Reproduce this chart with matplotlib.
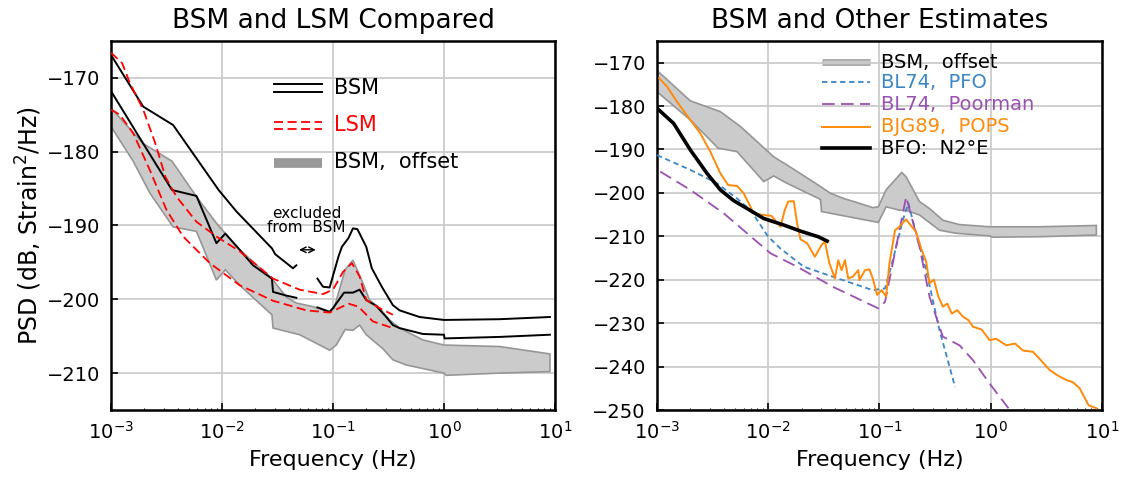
import numpy as np
import matplotlib
matplotlib.use("Agg")
import matplotlib.pyplot as plt

plt.rcParams['font.family'] = ['DejaVu Sans']
plt.rcParams['mathtext.fontset'] = 'dejavusans'

# ---- left panel data (log10 frequency, dB) ----
bsm_hi_a_lf = [-3.0, -2.71, -2.44, -2.03, -1.87, -1.55, -1.52, -1.36, -1.33]
bsm_hi_a_db = [-166.9, -173.9, -176.4, -185.2, -188.1, -193.1, -193.9, -195.8, -195.4]
bsm_hi_b_lf = [-1.14, -1.09, -1.03, -0.95, -0.92, -0.86, -0.82, -0.78, -0.70, -0.65,
               -0.56, -0.46, -0.40, -0.22, 0.0, 0.5, 0.955]
bsm_hi_b_db = [-197.2, -198.3, -198.4, -194.2, -192.9, -191.7, -190.4, -190.5, -192.9, -195.8,
               -198.3, -200.8, -201.5, -202.4, -202.8, -202.7, -202.4]

bsm_lo_a_lf = [-3.0, -2.71, -2.45, -2.23, -2.05, -1.97, -1.84, -1.72, -1.55, -1.54, -1.42, -1.33]
bsm_lo_a_db = [-171.8, -178.9, -185.2, -186.0, -192.4, -191.1, -193.3, -195.4, -197.2, -199.0,
               -199.5, -199.8]
bsm_lo_b_lf = [-1.14, -1.03, -1.0, -0.90, -0.82, -0.76, -0.70, -0.61, -0.52, -0.46, -0.40,
               -0.19, 0.0, 0.005, 0.5, 0.955]
bsm_lo_b_db = [-201.1, -201.7, -201.2, -199.1, -199.1, -198.7, -200.1, -200.9, -202.4, -203.5,
               -203.9, -204.7, -204.8, -205.3, -205.1, -204.8]

lsm_hi_lf = [-3.0, -2.90, -2.83, -2.71, -2.60, -2.51, -2.41, -2.23, -2.05, -1.84, -1.54, -1.30,
             -1.09, -1.0, -0.91, -0.83, -0.76, -0.70, -0.58, -0.46]
lsm_hi_db = [-166.6, -168.0, -170.7, -174.3, -178.9, -183.4, -186.1, -189.5, -191.5, -193.5,
             -197.2, -198.7, -199.3, -198.7, -196.3, -195.1, -196.9, -200.1, -201.2, -202.1]

lsm_lo_lf = [-3.0, -2.92, -2.80, -2.65, -2.50, -2.35, -2.11, -1.84, -1.54, -1.24, -1.03, -0.86,
             -0.77, -0.64, -0.46]
lsm_lo_db = [-174.3, -175.0, -177.5, -182.5, -187.9, -191.5, -195.1, -198.1, -200.2, -201.5,
             -201.8, -200.6, -201.0, -203.0, -203.9]

band_l_up_lf = [-3.0, -2.71, -2.45, -2.23, -2.05, -1.97, -1.84, -1.55, -1.42, -1.33, -1.18,
                -1.03, -0.99, -0.89, -0.82, -0.73, -0.67, -0.58, -0.49, -0.40, -0.19, 0.0,
                0.5, 0.955]
band_l_up_db = [-174.1, -178.9, -181.3, -186.1, -189.7, -191.1, -193.3, -197.2, -199.7, -200.5,
                -201.0, -201.7, -201.2, -196.0, -194.7, -197.8, -200.1, -201.2, -202.8, -203.9,
                -205.5, -206.2, -206.4, -207.4]
band_l_lo_lf = [-3.0, -2.80, -2.65, -2.44, -2.23, -2.05, -1.97, -1.84, -1.55, -1.54, -1.30,
                -1.03, -0.97, -0.89, -0.82, -0.76, -0.70, -0.55, -0.46, -0.34, 0.0, 0.02,
                0.5, 0.955]
band_l_lo_db = [-176.6, -181.3, -185.6, -190.2, -190.8, -197.4, -196.0, -198.1, -202.1, -203.9,
                -204.8, -206.9, -206.2, -204.1, -204.2, -203.5, -204.8, -206.7, -208.2, -208.9,
                -210.0, -210.3, -210.0, -209.8]

# ---- right panel data ----
band_r_up_lf = [-3.0, -2.70, -2.43, -2.25, -1.95, -1.83, -1.55, -1.44, -1.32, -1.18, -1.06,
                -1.01, -0.94, -0.80, -0.76, -0.64, -0.55, -0.43, -0.28, -0.01, 0.44, 0.95]
band_r_up_db = [-171.8, -178.8, -181.3, -184.7, -191.7, -193.6, -198.2, -200.1, -201.3, -202.4,
                -203.4, -203.2, -199.3, -195.3, -196.3, -202.0, -203.6, -206.3, -207.3, -207.8,
                -207.8, -207.5]
band_r_lo_lf = [-3.0, -2.70, -2.45, -2.28, -2.04, -1.95, -1.83, -1.53, -1.52, -1.36, -1.01,
                -0.94, -0.82, -0.76, -0.64, -0.46, -0.31, -0.01, 0.02, 0.44, 0.95]
band_r_lo_db = [-176.7, -183.2, -189.7, -190.5, -197.4, -196.1, -197.8, -201.5, -204.3, -205.1,
                -206.8, -203.2, -204.0, -204.0, -205.1, -208.6, -209.3, -209.9, -210.2, -210.1,
                -209.7]

pfo_lf = [-3.0, -2.70, -2.46, -2.28, -2.16, -2.0, -1.89, -1.68, -1.42, -1.06, -0.95, -0.88,
          -0.79, -0.74, -0.67, -0.58, -0.46, -0.32]
pfo_db = [-191.3, -194.7, -197.8, -201.3, -203.9, -210.1, -212.8, -217.0, -219.3, -222.4,
          -222.0, -215.5, -206.3, -202.4, -209.3, -217.8, -231.6, -244.7]

poor_lf = [-2.97, -2.70, -2.40, -1.98, -1.74, -1.42, -1.01, -0.95, -0.85, -0.76, -0.64, -0.55,
           -0.47, -0.43, -0.28, -0.16, -0.01, 0.16]
poor_db = [-195.1, -199.3, -204.7, -213.9, -217.0, -221.6, -226.6, -225.1, -212.4, -200.9,
           -212.4, -223.9, -230.1, -233.1, -235.1, -238.5, -243.9, -249.6]

pops_lf = [-2.98, -2.91, -2.82, -2.70, -2.61, -2.52, -2.43, -2.36, -2.28, -2.22, -2.13, -2.04,
           -1.97, -1.89, -1.85, -1.82, -1.77, -1.74, -1.71, -1.65, -1.58, -1.52, -1.49, -1.45,
           -1.40, -1.37, -1.34, -1.31, -1.28, -1.24, -1.19, -1.18, -1.13, -1.09, -1.06, -1.02,
           -0.98, -0.94, -0.91, -0.86, -0.82, -0.77, -0.76, -0.73, -0.67, -0.62, -0.58, -0.55,
           -0.51, -0.47, -0.43, -0.39, -0.35, -0.30, -0.25, -0.20, -0.16, -0.08, -0.01, 0.05,
           0.14, 0.22, 0.29, 0.38, 0.45, 0.53, 0.60, 0.68, 0.74, 0.80, 0.88, 0.95]
pops_db = [-173.6, -175.5, -179.0, -183.2, -186.3, -190.5, -195.5, -198.2, -198.4, -200.1,
           -204.7, -205.1, -205.3, -207.8, -203.9, -202.0, -201.9, -207.0, -210.7, -211.6,
           -214.7, -212.0, -211.2, -216.2, -219.7, -215.5, -217.8, -215.5, -219.7, -219.3,
           -217.8, -220.1, -217.8, -217.6, -219.7, -223.5, -222.4, -223.9, -216.2, -208.6,
           -207.8, -206.3, -206.1, -207.1, -209.0, -213.2, -215.8, -220.8, -220.0, -223.9,
           -226.2, -225.5, -227.8, -227.0, -228.5, -229.3, -230.8, -231.5, -233.9, -233.6,
           -235.1, -234.7, -236.3, -236.6, -238.5, -240.8, -242.0, -243.1, -243.6, -245.0,
           -248.9, -249.6]

bfo_lf = [-3.0, -2.85, -2.70, -2.55, -2.43, -2.31, -2.19, -2.04, -1.86, -1.71, -1.55, -1.47]
bfo_db = [-180.5, -184.0, -190.1, -195.5, -199.3, -201.8, -203.6, -205.9, -207.4, -208.8,
          -210.1, -211.1]

F = lambda lf: 10.0 ** np.asarray(lf)

band_face = '#cbcbcb'
band_edge = '#969696'
c_blue = '#3a86c6'
c_purple = '#9a50b0'
c_orange = '#ff8a0a'

fig = plt.figure(figsize=(11.36, 4.8), dpi=100)
axl = fig.add_axes([0.0977, 0.1458, 0.3908, 0.769])
axr = fig.add_axes([0.5783, 0.1458, 0.3917, 0.769])


def band(ax, ulf, udb, llf, ldb):
    xs = np.concatenate([F(ulf), F(llf)[::-1]])
    ys = np.concatenate([udb, ldb[::-1]])
    ax.fill(xs, ys, facecolor=band_face, edgecolor=band_edge, lw=1.2, zorder=2)


def style(ax, ylim, yticks):
    ax.set_xscale('log')
    ax.set_xlim(1e-3, 1e1)
    ax.set_ylim(*ylim)
    ax.set_yticks(yticks)
    ax.set_yticklabels([f'\u2212{abs(v)}' for v in yticks])
    ax.grid(True, which='major', color='#cccccc', lw=1.3, zorder=0)
    ax.tick_params(which='major', direction='in', length=5, width=1.2, labelsize=14, pad=8)
    ax.tick_params(which='minor', direction='in', length=1.5, width=0.8)
    ax.tick_params(axis='y', which='minor', length=0)
    for s in ax.spines.values():
        s.set_linewidth(1.8)
    ax.set_xlabel('Frequency (Hz)', fontsize=16, labelpad=5)


# left panel
band(axl, band_l_up_lf, np.array(band_l_up_db), band_l_lo_lf, np.array(band_l_lo_db))
for lf, db in [(bsm_hi_a_lf, bsm_hi_a_db), (bsm_hi_b_lf, bsm_hi_b_db),
               (bsm_lo_a_lf, bsm_lo_a_db), (bsm_lo_b_lf, bsm_lo_b_db)]:
    axl.plot(F(lf), db, color='black', lw=1.4, zorder=4)
for lf, db in [(lsm_hi_lf, lsm_hi_db), (lsm_lo_lf, lsm_lo_db)]:
    axl.plot(F(lf), db, color='red', lw=1.3, dashes=(5, 2.5), zorder=5)

style(axl, (-215, -165), [-170, -180, -190, -200, -210])
axl.set_ylabel('PSD (dB, Strain$^2$/Hz)', fontsize=17, labelpad=2)
axl.set_title('BSM and LSM Compared', fontsize=19, pad=9)

axl.text(0.058, -189.3, 'excluded\nfrom  BSM', ha='center', va='center', fontsize=11,
         linespacing=0.95)
axl.annotate('', xy=(10 ** -1.13, -193.3), xytext=(10 ** -1.33, -193.3),
             arrowprops=dict(arrowstyle='<->', color='black', lw=1.0, mutation_scale=10))

# left legend keys (drawn in axes fraction)
kx = [0.367, 0.475]
axl.plot(kx, [0.883, 0.883], color='black', lw=1.4, transform=axl.transAxes)
axl.plot(kx, [0.861, 0.861], color='black', lw=1.4, transform=axl.transAxes)
axl.plot(kx, [0.781, 0.781], color='red', lw=1.3, dashes=(5, 2.5), transform=axl.transAxes)
axl.plot(kx, [0.762, 0.762], color='red', lw=1.3, dashes=(5, 2.5), transform=axl.transAxes)
axl.plot(kx, [0.670, 0.670], color='#999999', lw=7, solid_capstyle='butt',
         transform=axl.transAxes)
axl.text(0.502, 0.872, 'BSM', fontsize=15, va='center', transform=axl.transAxes)
axl.text(0.502, 0.771, 'LSM', fontsize=15, va='center', color='red', transform=axl.transAxes)
axl.text(0.502, 0.672, 'BSM,  offset', fontsize=15, va='center', transform=axl.transAxes)

# right panel
band(axr, band_r_up_lf, np.array(band_r_up_db), band_r_lo_lf, np.array(band_r_lo_db))
axr.plot(F(pfo_lf), pfo_db, color=c_blue, lw=1.3, dashes=(3, 2), zorder=4)
axr.plot(F(poor_lf), poor_db, color=c_purple, lw=1.3, dashes=(7, 3.5), zorder=4)
axr.plot(F(pops_lf), pops_db, color=c_orange, lw=1.4, zorder=5)
axr.plot(F(bfo_lf), bfo_db, color='black', lw=2.6, zorder=6)

style(axr, (-250, -165), [-170, -180, -190, -200, -210, -220, -230, -240, -250])
axr.set_title('BSM and Other Estimates', fontsize=19, pad=9)

kx = [0.370, 0.479]
rows = [0.942, 0.888, 0.829, 0.768, 0.709]
axr.plot(kx, [rows[0]] * 2, color='#aaaaaa', lw=5, solid_capstyle='butt',
         transform=axr.transAxes)
axr.plot(kx, [rows[0]] * 2, color='#c8c8c8', lw=2.5, solid_capstyle='butt',
         transform=axr.transAxes)
axr.plot(kx, [rows[1]] * 2, color=c_blue, lw=1.3, dashes=(3, 2), transform=axr.transAxes)
axr.plot(kx, [rows[2]] * 2, color=c_purple, lw=1.3, dashes=(7, 3.5), transform=axr.transAxes)
axr.plot(kx, [rows[3]] * 2, color=c_orange, lw=1.4, transform=axr.transAxes)
axr.plot(kx, [rows[4]] * 2, color='black', lw=2.6, transform=axr.transAxes)
labels = ['BSM,  offset', 'BL74,  PFO', 'BL74,  Poorman', 'BJG89,  POPS', 'BFO:  N2\u00b0E']
colors = ['black', c_blue, c_purple, c_orange, 'black']
for r, lab, c in zip(rows, labels, colors):
    axr.text(0.503, r, lab, fontsize=14, va='center', color=c, transform=axr.transAxes)

fig.savefig('out.png', dpi=100)
